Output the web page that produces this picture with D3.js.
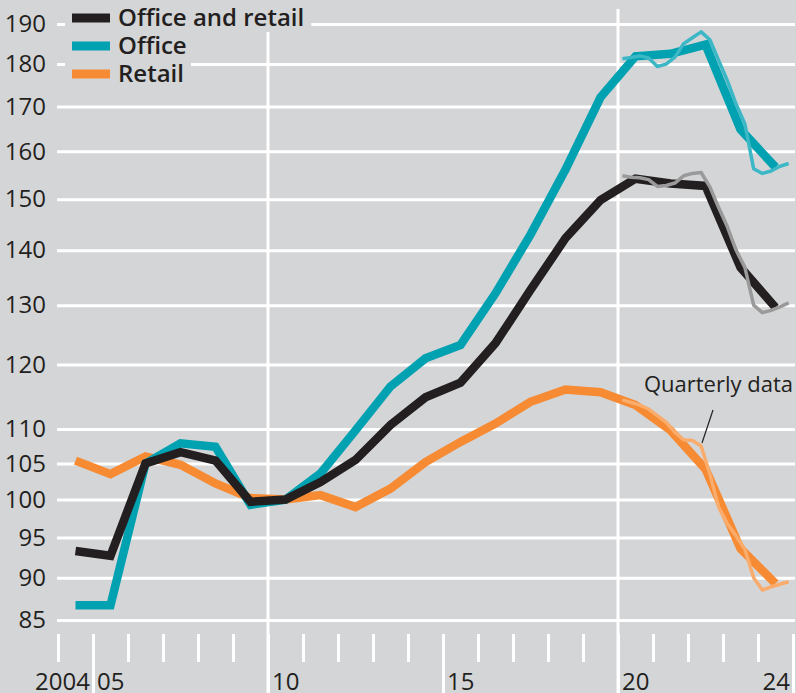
<!DOCTYPE html>
<html>
<head>
<meta charset="utf-8">
<script src="https://cdn.jsdelivr.net/npm/d3@7"></script>
<style>
  body { margin: 0; background: #d4d5d7; }
  svg { display: block; font-family: "Open Sans", "Noto Sans", sans-serif; }
  .x-label { font-size: 24px; fill: #231f20; }
  .legend text { font-size: 24px; font-weight: 600; fill: #231f20; }
  .note { font-size: 22px; fill: #231f20; }
</style>
</head>
<body>
<div id="chart"></div>
<script>
// annual series, plotted mid-year (2004 ... 2024)
var years = d3.range(2004, 2025);
var officeRetail = [93.3, 92.7, 105.0, 106.6, 105.4, 99.7, 100, 102.4, 105.5, 110.6, 114.8,
    117.1, 123.5, 132.7, 142.3, 149.8, 154.2, 153.2, 152.7, 136.8, 129.6];
var office = [86.7, 86.7, 105.0, 107.9, 107.4, 99.3, 100, 103.6, 109.8, 116.5, 121.0,
    123.2, 132.1, 143.0, 156.1, 172.1, 181.9, 182.5, 184.8, 164.8, 156.6];
var retail = [105.4, 103.5, 106.0, 104.8, 102.2, 100.2, 100, 100.6, 99.0, 101.5, 105.2,
    108.1, 110.8, 114.1, 116.0, 115.6, 113.6, 109.8, 104.2, 93.6, 89.3];

// quarterly series, 2020Q1 ... 2024Q4
var quarters = d3.range(0, 20).map(function(i){ return 2020 + Math.floor(i / 4) + ((i % 4) + 0.5) / 4; });
var officeRetailQ = [154.8, 154.5, 154.4, 154.0, 152.6, 152.8, 153.3, 154.8, 155.3, 155.5,
    152.5, 148.3, 144.5, 140.0, 136.8, 130.0, 128.7, 129.1, 129.7, 130.4];
var officeQ = [181.3, 181.6, 182.0, 181.5, 179.4, 180.0, 181.7, 185.0, 186.5, 188.0,
    186.0, 180.9, 176.0, 170.5, 166.0, 156.3, 155.3, 155.8, 156.8, 157.4];
var retailQ = [114.4, 114.0, 113.6, 113.0, 112.0, 111.0, 109.5, 108.4, 108.3, 107.5,
    103.5, 99.0, 96.8, 95.2, 93.5, 90.0, 88.5, 88.9, 89.2, 89.5];

var yTicks = [85, 90, 95, 100, 105, 110, 120, 130, 140, 150, 160, 170, 180, 190];
var xLabels = [
    { year: 2005, text: "2004", anchor: "end" },
    { year: 2005, text: "05", anchor: "start" },
    { year: 2010, text: "10", anchor: "start" },
    { year: 2015, text: "15", anchor: "start" },
    { year: 2020, text: "20", anchor: "start" },
    { year: 2025, text: "24", anchor: "end" }
];
var legendItems = [
    { name: "Office and retail", color: "#231f20" },
    { name: "Office", color: "#00a1b1" },
    { name: "Retail", color: "#f68b33" }
];

var width = 796, height = 693;
var bg = "#d4d5d7";

var svg = d3.select("#chart").append("svg")
    .attr("width", width)
    .attr("height", height);

svg.append("rect").attr("width", width).attr("height", height).attr("fill", bg);

var x = d3.scaleLinear().domain([2004, 2025]).range([58, 793]);
var y = d3.scaleLog().domain([85, 190]).range([620, 24]);

// y axis with gridlines
var yAxis = d3.axisLeft(y)
    .tickValues(yTicks)
    .tickFormat(d3.format("d"))
    .tickSize(-(795 - 57))
    .tickPadding(11);

var yg = svg.append("g")
    .attr("class", "y-axis")
    .attr("transform", "translate(57,0)")
    .call(yAxis);
yg.select(".domain").remove();
yg.selectAll(".tick line").attr("stroke", "#fff").attr("stroke-width", 3);
yg.selectAll(".tick text")
    .attr("fill", "#231f20")
    .style("font-size", "24px")
    .style("font-family", "'Open Sans', 'Noto Sans', sans-serif");

// vertical gridlines at 2010 and 2020
svg.selectAll(".vgrid")
    .data([2010, 2020])
    .enter().append("line")
    .attr("class", "vgrid")
    .attr("x1", function(d){ return x(d); })
    .attr("x2", function(d){ return x(d); })
    .attr("y1", 9)
    .attr("y2", height)
    .attr("stroke", "#fff")
    .attr("stroke-width", 3);

// x ticks
var xAxis = d3.axisBottom(x)
    .tickValues(d3.range(2004, 2026))
    .tickSize(28)
    .tickFormat("");
var xg = svg.append("g")
    .attr("class", "x-axis")
    .attr("transform", "translate(0,634)")
    .call(xAxis);
xg.select(".domain").remove();
xg.selectAll(".tick line")
    .attr("stroke", "#fff")
    .attr("stroke-width", 3)
    .attr("y2", function(d){ return (d % 5 === 0) ? 60 : 28; });

svg.selectAll(".x-label")
    .data(xLabels)
    .enter().append("text")
    .attr("class", "x-label")
    .attr("x", function(d){ return x(d.year) + (d.anchor === "start" ? 4 : -3); })
    .attr("y", 690)
    .attr("text-anchor", function(d){ return d.anchor; })
    .text(function(d){ return d.text; });

// lines
var annualLine = d3.line()
    .x(function(d, i){ return x(years[i] + 0.5); })
    .y(function(d){ return y(d); });

var quarterLine = d3.line()
    .x(function(d, i){ return x(quarters[i]); })
    .y(function(d){ return y(d); });

var annual = [
    { values: retail, color: "#f68b33" },
    { values: office, color: "#00a1b1" },
    { values: officeRetail, color: "#231f20" }
];
var quarterly = [
    { values: retailQ, color: "#f9ac6c" },
    { values: officeQ, color: "#3bb7c6" },
    { values: officeRetailQ, color: "#9a9a9a" }
];

annual.forEach(function(s){
    svg.append("path")
        .datum(s.values)
        .attr("d", annualLine)
        .attr("fill", "none")
        .attr("stroke", s.color)
        .attr("stroke-width", 8.5);
});

quarterly.forEach(function(s){
    svg.append("path")
        .datum(s.values)
        .attr("d", quarterLine)
        .attr("fill", "none")
        .attr("stroke", s.color)
        .attr("stroke-width", 3.5)
        .attr("stroke-linejoin", "round");
});

// annotation
svg.append("text")
    .attr("class", "note")
    .attr("x", 793)
    .attr("y", 392)
    .attr("text-anchor", "end")
    .text("Quarterly data");
svg.append("line")
    .attr("x1", 713).attr("y1", 410)
    .attr("x2", 702).attr("y2", 443)
    .attr("stroke", "#231f20")
    .attr("stroke-width", 1.2);

// legend
var legend = svg.append("g").attr("class", "legend");
var rows = legend.selectAll("g")
    .data(legendItems)
    .enter().append("g")
    .attr("transform", function(d, i){ return "translate(0," + (18 + i * 28) + ")"; });

rows.append("rect")
    .attr("class", "legend-bg")
    .attr("x", 65)
    .attr("y", -14)
    .attr("height", 28)
    .attr("fill", bg);

rows.append("rect")
    .attr("x", 72)
    .attr("y", -4.5)
    .attr("width", 38)
    .attr("height", 9)
    .attr("fill", function(d){ return d.color; });

rows.append("text")
    .attr("x", 118)
    .attr("y", 0)
    .attr("dy", "0.35em")
    .text(function(d){ return d.name; });

rows.each(function(){
    var row = d3.select(this);
    var w = row.select("text").node().getComputedTextLength();
    row.select(".legend-bg").attr("width", 118 + w + 7 - 65);
});
</script>
</body>
</html>
